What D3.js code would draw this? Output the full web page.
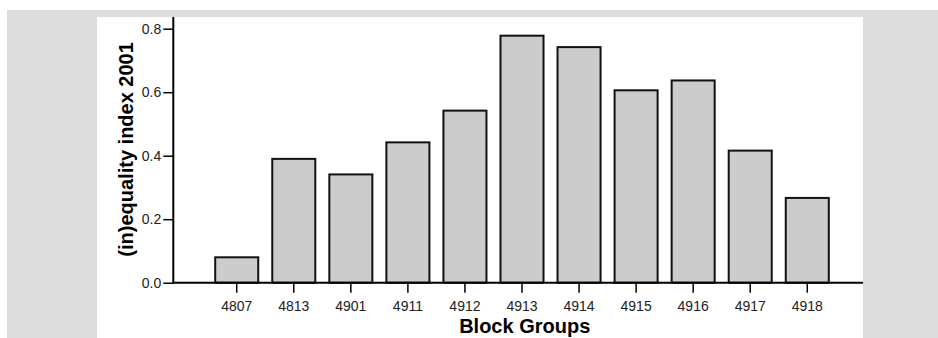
<!DOCTYPE html>
<html>
<head>
<meta charset="utf-8">
<script src="https://cdn.jsdelivr.net/npm/d3@7"></script>
<style>
  html, body { margin: 0; padding: 0; background: #ffffff; }
  svg { display: block; font-family: "Liberation Sans", Arial, sans-serif; }
</style>
</head>
<body>
<svg id="chart" width="938" height="338"></svg>
<script>
// Block groups and their 2001 (in)equality index
const blockGroups = ["4807", "4813", "4901", "4911", "4912", "4913", "4914", "4915", "4916", "4917", "4918"];
const inequality2001 = [0.080, 0.390, 0.341, 0.442, 0.542, 0.778, 0.742, 0.606, 0.637, 0.416, 0.267];
const yTicks = [0.0, 0.2, 0.4, 0.6, 0.8];

const FONT = "Liberation Sans, Arial, sans-serif";
const svg = d3.select("#chart");

// outer frame and plotting panel
svg.append("rect").attr("x", 7).attr("y", 10).attr("width", 931).attr("height", 328).attr("fill", "#dcdcdc");
svg.append("rect").attr("x", 97).attr("y", 17).attr("width", 766).attr("height", 321).attr("fill", "#ffffff");

const axisX = 173.3, baseY = 282.7, topY = 17;

const y = d3.scaleLinear().domain([0, 0.8]).range([baseY, 28.7]);
const x = d3.scaleBand().domain(blockGroups).range([208.2, 835.8]).paddingInner(0.246).paddingOuter(0.123);

const data = blockGroups.map((g, i) => ({ g, v: inequality2001[i] }));

// bars
svg.append("g").selectAll("rect").data(data).join("rect")
  .attr("x", d => x(d.g))
  .attr("y", d => y(d.v))
  .attr("width", x.bandwidth())
  .attr("height", d => baseY - y(d.v))
  .attr("fill", "#cccccc")
  .attr("stroke", "#111111")
  .attr("stroke-width", 2);

// y axis
const yAxis = svg.append("g").attr("transform", `translate(${axisX},0)`)
  .call(d3.axisLeft(y).tickValues(yTicks).tickFormat(d3.format(".1f")).tickSize(10).tickPadding(2));
yAxis.attr("font-size", null).attr("font-family", null);
yAxis.select(".domain").remove();
yAxis.selectAll(".tick line").attr("stroke", "#000").attr("stroke-width", 1.5);
yAxis.selectAll(".tick text")
  .style("font-size", "14px").style("font-family", FONT).attr("fill", "#222");
svg.append("line").attr("x1", axisX).attr("x2", axisX).attr("y1", topY).attr("y2", baseY + 1)
  .attr("stroke", "#000").attr("stroke-width", 2);

// x axis
const xAxis = svg.append("g").attr("transform", `translate(0,${baseY})`)
  .call(d3.axisBottom(x).tickSize(10));
xAxis.attr("font-size", null).attr("font-family", null);
xAxis.select(".domain").remove();
xAxis.selectAll(".tick line").attr("stroke", "#000").attr("stroke-width", 1.5);
xAxis.selectAll(".tick text")
  .attr("y", 28.3).attr("dy", null)
  .style("font-size", "14px").style("font-family", FONT).attr("fill", "#222");
svg.append("line").attr("x1", axisX - 1).attr("x2", 863).attr("y1", baseY).attr("y2", baseY)
  .attr("stroke", "#000").attr("stroke-width", 2);

// axis titles
svg.append("text").attr("x", 524.7).attr("y", 333)
  .attr("text-anchor", "middle").style("font-size", "20px").style("font-family", FONT)
  .attr("font-weight", "bold").attr("fill", "#000")
  .text("Block Groups");
svg.append("text").attr("transform", `translate(132.5,149.4) rotate(-90)`)
  .attr("text-anchor", "middle").style("font-size", "20px").style("font-family", FONT)
  .attr("font-weight", "bold").attr("fill", "#000")
  .text("(in)equality index 2001");
</script>
</body>
</html>
